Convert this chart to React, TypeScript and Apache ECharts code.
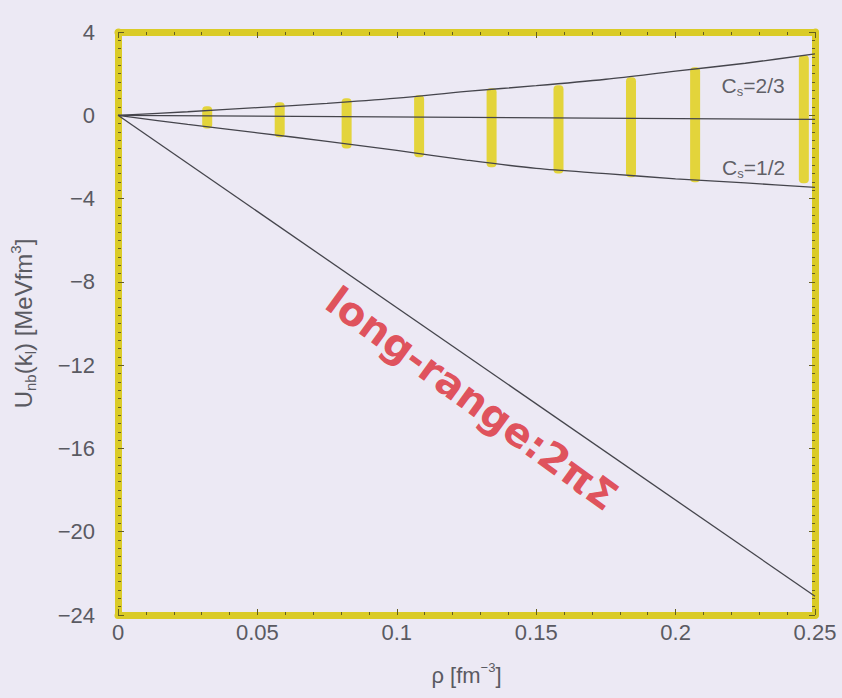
import React, { useEffect, useRef } from "react";
import * as echarts from "echarts";

// x grid (rho, fm^-3)
const rhoGrid = [0, 0.025, 0.05, 0.075, 0.1, 0.125, 0.15, 0.175, 0.2, 0.225, 0.25];
// C_s = 2/3 curve (upper)
const upperValues = [0, 0.17, 0.37, 0.57, 0.82, 1.15, 1.42, 1.73, 2.12, 2.5, 2.95];
// C_s = 1/2 curve (lower)
const lowerValues = [0, -0.44, -0.84, -1.25, -1.69, -2.15, -2.55, -2.8, -3.05, -3.25, -3.46];
// middle (reference) line
const middleRho = [0, 0.25];
const middleValues = [0, -0.2];
// long-range line
const longRho = [0, 0.25];
const longValues = [0, -23.1];
// yellow highlighter marks: rho, top, bottom
const markRho = [0.032, 0.058, 0.082, 0.108, 0.134, 0.158, 0.184, 0.207, 0.246];
const markTop = [0.43, 0.63, 0.82, 0.96, 1.3, 1.44, 1.83, 2.31, 2.88];
const markBottom = [-0.63, -1.06, -1.59, -2.02, -2.5, -2.79, -2.98, -3.22, -3.27];

const yTicks = [4, 0, -4, -8, -12, -16, -20, -24];
const xTicks = [0, 0.05, 0.1, 0.15, 0.2, 0.25];

const FONT = "Liberation Sans, Arial, sans-serif";
const FRAME = "#dacb27";
const TICK = "#645e20";
const LBL = "#5a5a62";

export default function App() {
  const ref = useRef<HTMLDivElement>(null);
  useEffect(() => {
    const chart = echarts.init(ref.current!, null, { renderer: "svg" });
    const zip = (xs: number[], ys: number[]) => xs.map((x, i) => [x, ys[i]]);
    const axisCommon = {
      axisLine: { show: true, onZero: false, lineStyle: { color: FRAME, width: 7 } },
      axisTick: { show: true, inside: true, length: 6, lineStyle: { color: TICK, width: 1 } },
      minorTick: { show: true, length: 3, lineStyle: { color: TICK, width: 1 } },
      splitLine: { show: false },
    };
    const option: any = {
      animation: false,
      backgroundColor: "#ece9f4",
      grid: { left: 118, right: 27, top: 32, bottom: 83 },
      xAxis: [
        {
          type: "value",
          min: 0,
          max: 0.25,
          interval: 0.05,
          position: "bottom",
          ...axisCommon,
          minorTick: { ...axisCommon.minorTick, splitNumber: 5 },
          axisLabel: {
            color: LBL,
            fontSize: 22,
            fontFamily: FONT,
            margin: 6,
            formatter: (v: number) => (xTicks.includes(Math.round(v * 100) / 100) ? String(Math.round(v * 100) / 100) : ""),
          },
          name: "{m|ρ [fm}{p|−3}{m|]}",
          nameLocation: "middle",
          nameGap: 46,
          nameTextStyle: {
            rich: {
              m: { fontSize: 22, color: LBL, fontFamily: FONT, lineHeight: 28 },
              p: { fontSize: 13, color: LBL, fontFamily: FONT, verticalAlign: "top", lineHeight: 14 },
            },
          },
        },
        {
          type: "value",
          min: 0,
          max: 0.25,
          interval: 0.05,
          position: "top",
          ...axisCommon,
          minorTick: { ...axisCommon.minorTick, splitNumber: 5 },
          axisLabel: { show: false },
        },
      ],
      yAxis: [
        {
          type: "value",
          min: -24,
          max: 4,
          interval: 4,
          position: "left",
          ...axisCommon,
          minorTick: { ...axisCommon.minorTick, splitNumber: 10 },
          axisLabel: {
            color: LBL,
            fontSize: 22,
            fontFamily: FONT,
            margin: 23,
            formatter: (v: number) => (yTicks.includes(v) ? String(v).replace("-", "−") : ""),
          },
          name: "{m|U}{s|nb}{m|(k}{s|l}{m|) [MeVfm}{p|3}{m|]}",
          nameLocation: "middle",
          nameRotate: 90,
          nameGap: 80,
          nameTextStyle: {
            rich: {
              m: { fontSize: 24, color: LBL, fontFamily: FONT, lineHeight: 30 },
              s: { fontSize: 15, color: LBL, fontFamily: FONT, verticalAlign: "bottom", lineHeight: 16 },
              p: { fontSize: 15, color: LBL, fontFamily: FONT, verticalAlign: "top", lineHeight: 16 },
            },
          },
        },
        {
          type: "value",
          min: -24,
          max: 4,
          interval: 4,
          position: "right",
          ...axisCommon,
          minorTick: { ...axisCommon.minorTick, splitNumber: 10 },
          axisLabel: { show: false },
        },
      ],
      series: [
        {
          type: "custom",
          xAxisIndex: 0,
          yAxisIndex: 0,
          data: markRho.map((r, i) => [r, markTop[i], markBottom[i]]),
          encode: { x: 0, y: [1, 2] },
          renderItem: (params: any, api: any) => {
            const p1 = api.coord([api.value(0), api.value(1)]);
            const p2 = api.coord([api.value(0), api.value(2)]);
            return {
              type: "rect",
              shape: { x: p1[0] - 5, y: p1[1], width: 10, height: p2[1] - p1[1], r: 4 },
              style: { fill: "#e2d01a", opacity: 0.85 },
            };
          },
          z: 1,
        },
        {
          type: "line",
          data: zip(rhoGrid, upperValues),
          showSymbol: false,
          smooth: 0.3,
          lineStyle: { color: "#45454c", width: 1.3 },
          z: 3,
        },
        {
          type: "line",
          data: zip(rhoGrid, lowerValues),
          showSymbol: false,
          smooth: 0.3,
          lineStyle: { color: "#45454c", width: 1.3 },
          z: 3,
        },
        {
          type: "line",
          data: zip(middleRho, middleValues),
          showSymbol: false,
          lineStyle: { color: "#45454c", width: 1.3 },
          z: 3,
        },
        {
          type: "line",
          data: zip(longRho, longValues),
          showSymbol: false,
          lineStyle: { color: "#45454c", width: 1.3 },
          z: 3,
        },
        {
          type: "scatter",
          symbolSize: 1,
          itemStyle: { color: "rgba(0,0,0,0)" },
          data: [[0.2278, 1.44]],
          label: {
            show: true,
            position: "inside",
            formatter: "{m|C}{s|s}{m|=2/3}",
            rich: {
              m: { fontSize: 21, color: "#3a3a40", fontFamily: FONT, lineHeight: 26 },
              s: { fontSize: 13, color: "#3a3a40", fontFamily: FONT, verticalAlign: "bottom", lineHeight: 13 },
            },
          },
          z: 5,
        },
        {
          type: "scatter",
          symbolSize: 1,
          itemStyle: { color: "rgba(0,0,0,0)" },
          data: [[0.228, -2.5]],
          label: {
            show: true,
            position: "inside",
            formatter: "{m|C}{s|s}{m|=1/2}",
            rich: {
              m: { fontSize: 21, color: "#3a3a40", fontFamily: FONT, lineHeight: 26 },
              s: { fontSize: 13, color: "#3a3a40", fontFamily: FONT, verticalAlign: "bottom", lineHeight: 13 },
            },
          },
          z: 5,
        },
        {
          type: "scatter",
          symbolSize: 1,
          itemStyle: { color: "rgba(0,0,0,0)" },
          data: [[0.127, -13.6]],
          label: {
            show: true,
            position: "inside",
            rotate: -36,
            formatter: "long-range:2πΣ",
            fontSize: 40,
            fontWeight: "bold",
            color: "#dc2a33",
            fontFamily: "DejaVu Sans, sans-serif",
          },
          z: 5,
        },
      ],
    };
    chart.setOption(option);
    return () => chart.dispose();
  }, []);
  return (
    <div
      ref={ref}
      style={{ position: "absolute", left: 0, top: 0, width: 842, height: 698, background: "#ece9f4" }}
    />
  );
}
